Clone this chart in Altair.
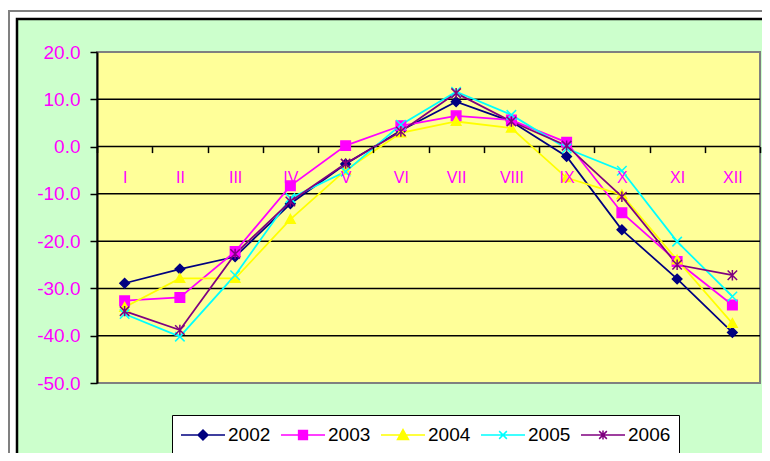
import altair as alt
import pandas as pd

months = ["I", "II", "III", "IV", "V", "VI", "VII", "VIII", "IX", "X", "XI", "XII"]
years = ["2002", "2003", "2004", "2005", "2006"]
v2002 = [-28.9, -25.9, -23.3, -12.1, -3.7, 3.4, 9.5, 5.3, -2.1, -17.6, -28.0, -39.3]
v2003 = [-32.6, -31.9, -22.2, -8.3, 0.2, 4.4, 6.5, 5.6, 0.9, -14.0, -24.3, -33.5]
v2004 = [-34.0, -27.9, -27.9, -15.4, -5.0, 2.9, 5.3, 3.9, -6.6, -10.2, -24.0, -37.4]
v2005 = [-35.4, -40.2, -27.2, -10.9, -5.3, 4.6, 11.6, 6.7, -0.4, -5.1, -20.1, -31.7]
v2006 = [-34.8, -38.8, -22.7, -11.6, -3.6, 3.2, 11.3, 5.3, 0.2, -10.6, -25.0, -27.2]
grid_values = [-40, -30, -20, -10, 0, 10]

colors = ["#000080", "#FF00FF", "#FFFF00", "#00FFFF", "#800080"]
plot_shapes = [
    "M0,-1L1,0L0,1L-1,0Z",
    "M-1,-1L1,-1L1,1L-1,1Z",
    "M0,-1L1,0.8L-1,0.8Z",
    "M-1,-1L1,1M-1,1L1,-1",
    "M-1,-1L1,1M-1,1L1,-1M0,-1.1L0,1.1",
]
legend_shapes = [
    "M-1,0L3,0M1,-0.45L1.45,0L1,0.45L0.55,0Z",
    "M-1,0L3,0M0.6,-0.4L1.4,-0.4L1.4,0.4L0.6,0.4Z",
    "M-1,0L3,0M1,-0.5L1.5,0.4L0.5,0.4Z",
    "M-1,0L3,0M0.65,-0.35L1.35,0.35M0.65,0.35L1.35,-0.35",
    "M-1,0L3,0M0.65,-0.35L1.35,0.35M0.65,0.35L1.35,-0.35M1,-0.42L1,0.42",
]

series = [v2002, v2003, v2004, v2005, v2006]
rows = []
for y, vals in zip(years, series):
    for m, v in zip(months, vals):
        rows.append({"month": m, "year": y, "value": v})
df = pd.DataFrame(rows)

W, H = 663, 331
FONT = "Liberation Sans"

xs = alt.X("month:N", sort=months,
           scale=alt.Scale(type="band", paddingInner=0, paddingOuter=0),
           axis=alt.Axis(title=None, orient="bottom", offset=-236.4, domain=False,
                         ticks=True, tickBand="extent", tickSize=6, tickWidth=1.5,
                         tickColor="black", labelColor="#FF00FF", labelFontSize=16,
                         labelFont=FONT, labelPadding=17, labelAngle=0, zindex=1))
yaxis = alt.Axis(title=None, values=[20, 10, 0, -10, -20, -30, -40, -50],
                 format=".1f", labelExpr="replace(datum.label, '\u2212', '-')",
                 grid=False, domain=True, domainColor="black",
                 domainWidth=2, tickColor="black", tickSize=7, tickWidth=1.5,
                 labelColor="#FF00FF", labelFontSize=19, labelFont=FONT,
                 labelPadding=10, zindex=1)
yscale = alt.Scale(domain=[-50, 20], nice=False, zero=False)
ys = alt.Y("value:Q", scale=yscale, axis=yaxis)

cscale = alt.Scale(domain=years, range=colors)

one = alt.Data(values=[{"a": 1}])

outer = alt.Chart(one).mark_rect(fill="white", stroke="#808080", strokeWidth=2).encode(
    x=alt.value(-88), x2=alt.value(W + 40), y=alt.value(-41), y2=alt.value(H + 100))
green = alt.Chart(one).mark_rect(fill="#CCFFCC", stroke="black", strokeWidth=2.5).encode(
    x=alt.value(-80), x2=alt.value(W + 30), y=alt.value(-33), y2=alt.value(H + 74))
yellow = alt.Chart(one).mark_rect(fill="#FFFF99", stroke="#808080", strokeWidth=2).encode(
    x=alt.value(0), x2=alt.value(W), y=alt.value(0), y2=alt.value(H))

grid = alt.Chart(pd.DataFrame({"value": grid_values})).mark_rule(color="black", strokeWidth=1.5).encode(
    y=ys)

base = alt.Chart(df)

series_layers = []
for yr, col in zip(years, colors):
    series_layers.append(
        base.transform_filter(alt.datum.year == yr).mark_line(
            stroke=col, strokeWidth=1.75).encode(x=xs, y=ys)
    )
for yr, col, shp in zip(years, colors, plot_shapes):
    series_layers.append(
        base.transform_filter(alt.datum.year == yr).mark_point(
            shape=shp, filled=True, fill=col, stroke=col, strokeWidth=1.5, size=90, opacity=1
        ).encode(x=xs, y=ys)
    )

legend_layer = base.transform_filter("false").mark_point(
    filled=True, strokeWidth=1.5, size=484, opacity=1).encode(
    x=xs, y=ys,
    fill=alt.Fill("year:N", scale=cscale, legend=alt.Legend(title=None)),
    stroke=alt.Stroke("year:N", scale=cscale, legend=alt.Legend(title=None)),
    shape=alt.Shape("year:N", scale=alt.Scale(domain=years, range=legend_shapes),
                    legend=alt.Legend(title=None)),
)

chart = alt.layer(outer, green, yellow, grid, *series_layers, legend_layer).properties(
    width=W, height=H,
    autosize=alt.AutoSizeParams(type="none"),
    padding={"left": 89, "top": 44, "right": 2, "bottom": 70},
    background="white",
).configure_view(stroke=None).configure_legend(
    orient="none", legendX=75, legendY=363, direction="horizontal", columns=5,
    symbolSize=484, symbolStrokeWidth=1.5, labelFontSize=19, labelFont=FONT,
    labelColor="black", labelOffset=24, columnPadding=7, padding=8,
    fillColor="white", strokeColor="black",
)

chart.save("out.html", embed_options={"renderer": "svg", "actions": False})
